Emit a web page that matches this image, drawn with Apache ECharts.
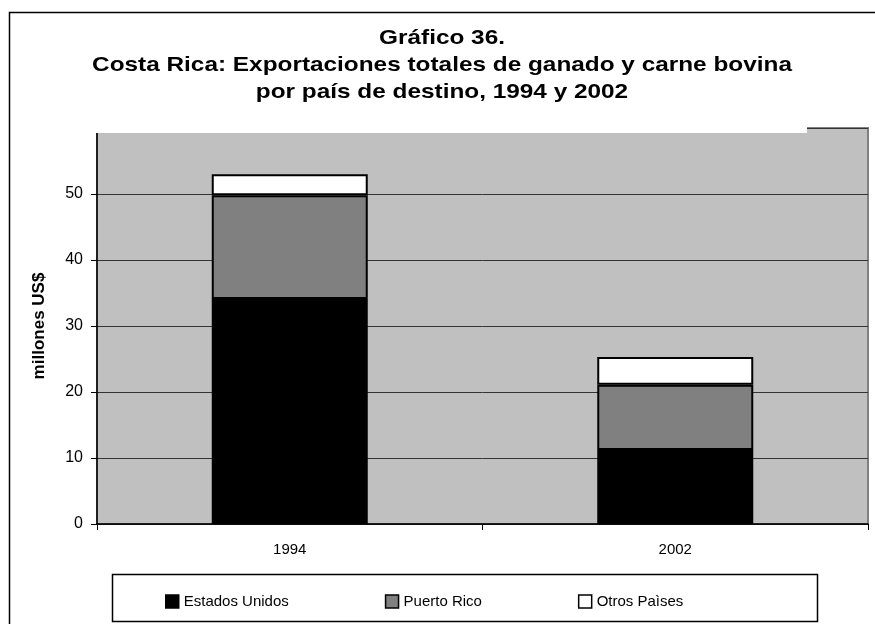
<!DOCTYPE html>
<html>
<head>
<meta charset="utf-8">
<script src="https://cdn.jsdelivr.net/npm/echarts@6/dist/echarts.min.js"></script>
<style>
html, body { margin: 0; padding: 0; background: #fff; }
#chart { width: 875px; height: 624px; }
</style>
</head>
<body>
<div id="chart"></div>
<script>
// datos
var years = ['1994', '2002'];
var estadosUnidos = [34.1, 11.2];
var puertoRico = [15.7, 9.9];
var otrosPaises = [3.2, 4.2];

var chart = echarts.init(document.getElementById('chart'));

var barBorder = { borderColor: '#000', borderWidth: 2 };

var option = {
    animation: false,
    textStyle: { fontFamily: 'Arial, "Liberation Sans", sans-serif', color: '#000' },
    grid: {
        left: 97, right: 7, top: 128, bottom: 100,
        show: true,
        backgroundColor: '#c0c0c0',
        borderColor: '#808080',
        borderWidth: 2
    },
    legend: {
        left: 160,
        top: 589,
        itemWidth: 13,
        itemHeight: 13,
        itemGap: 96,
        icon: 'rect',
        textStyle: { fontSize: 15, color: '#000' },
        itemStyle: { borderColor: '#000', borderWidth: 1.5 },
        data: ['Estados Unidos', 'Puerto Rico', 'Otros Paìses']
    },
    xAxis: {
        type: 'category',
        data: years,
        axisLine: { lineStyle: { color: '#000', width: 1.5 } },
        axisTick: { show: true, length: 6, lineStyle: { color: '#000' } },
        axisLabel: { fontSize: 15, color: '#000', margin: 18 }
    },
    yAxis: {
        type: 'value',
        min: 0,
        max: 60,
        interval: 10,
        name: 'millones US$',
        nameLocation: 'middle',
        nameGap: 49,
        nameTextStyle: { fontSize: 17, fontWeight: 'bold', color: '#000' },
        axisLine: { show: true, lineStyle: { color: '#000', width: 1.5 } },
        axisTick: { show: true, length: 6, lineStyle: { color: '#000' } },
        axisLabel: { fontSize: 16, color: '#000', margin: 14 },
        splitLine: { lineStyle: { color: '#333', width: 1 } }
    },
    series: [
        {
            name: 'Estados Unidos', type: 'bar', stack: 'total', barWidth: 156,
            itemStyle: Object.assign({ color: '#000' }, barBorder),
            data: estadosUnidos
        },
        {
            name: 'Puerto Rico', type: 'bar', stack: 'total',
            itemStyle: Object.assign({ color: '#808080' }, barBorder),
            data: puertoRico
        },
        {
            name: 'Otros Paìses', type: 'bar', stack: 'total',
            itemStyle: Object.assign({ color: '#fff' }, barBorder),
            data: otrosPaises
        }
    ],
    graphic: [
        {   // recuadro blanco del titulo, tapa la parte alta del area
            type: 'rect', z: 100,
            shape: { x: 10, y: 13, width: 797, height: 120 },
            style: { fill: '#fff' }
        },
        {   // titulo
            type: 'text', z: 120,
            x: 442, y: 25, scaleX: 1.16,
            style: {
                text: 'Gráfico 36.\nCosta Rica: Exportaciones totales de ganado y carne bovina\npor país de destino, 1994 y 2002',
                font: 'bold 21px Arial, "Liberation Sans", sans-serif',
                lineHeight: 27,
                textAlign: 'center',
                textVerticalAlign: 'top',
                verticalAlign: 'top',
                fill: '#000'
            }
        },
        {   // borde exterior
            type: 'rect', z: 150,
            shape: { x: 9.5, y: 12.5, width: 880, height: 630 },
            style: { fill: 'none', stroke: '#000', lineWidth: 1.5 }
        },
        {   // caja de la leyenda
            type: 'rect', z: 150,
            shape: { x: 112.5, y: 574.5, width: 705, height: 47 },
            style: { fill: 'none', stroke: '#000', lineWidth: 1.5 }
        }
    ]
};

chart.setOption(option);
</script>
</body>
</html>
